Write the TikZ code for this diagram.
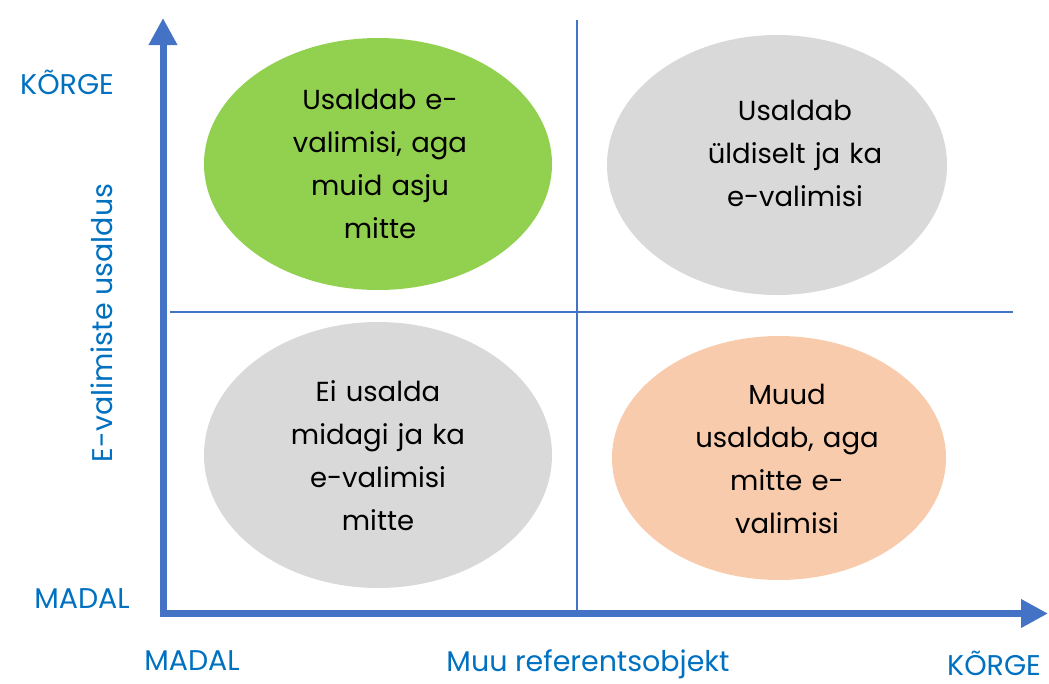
\documentclass[tikz,border=0pt]{standalone}
\usepackage{fontspec}
\setmainfont{Poppins}
\usetikzlibrary{arrows.meta}
\definecolor{axisblue}{HTML}{4472C4}
\definecolor{labelblue}{HTML}{0070C0}
\definecolor{cgreen}{HTML}{92D050}
\definecolor{cgrey}{HTML}{D9D9D9}
\definecolor{corange}{HTML}{F8CBAD}
\tikzset{
  axis/.style={draw=axisblue, line width=7pt, -{Triangle[length=27pt,width=27pt]}},
  divider/.style={draw=axisblue, line width=1.2pt},
  quad/.style={text width=220pt, align=center, font=\fontsize{27.5}{43}\selectfont, text=black},
  lab/.style={text=labelblue, font=\fontsize{28.5}{32}\selectfont},
}
\begin{document}
\begin{tikzpicture}[x=1pt,y=-1pt]
\useasboundingbox (0,0) rectangle (1049,683);
% ellipses
\fill[cgreen] (378,164) ellipse [x radius=174, y radius=126];
\fill[cgrey] (777,165) ellipse [x radius=170, y radius=130];
\fill[cgrey] (378,455) ellipse [x radius=174, y radius=133];
\fill[corange] (779,458) ellipse [x radius=167, y radius=122];
% dividers
\coordinate (vt) at (577,20);
\coordinate (vb) at (577,612);
\coordinate (hl) at (170,312);
\coordinate (hr) at (1013,312);
\draw[divider] (vt) -- (vb);
\draw[divider] (hl) -- (hr);
% axes
\coordinate (ytip) at (163,18);
\coordinate (xtip) at (1048,613.5);
\draw[axis] (163,617) -- (ytip);
\draw[axis] (159.5,613.5) -- (xtip);
% texts
\node[quad] (q1) at (380,164) {Usaldab e-\\valimisi, aga\\muid asju\\mitte};
\node[quad] (q2) at (795,153) {Usaldab\\üldiselt ja ka\\e-valimisi};
\node[quad] (q3) at (378,456) {Ei usalda\\midagi ja ka\\e-valimisi\\mitte};
\node[quad] (q4) at (787,459) {Muud\\usaldab, aga\\mitte e-\\valimisi};
\node[lab] (kv) at (67,82) {KÕRGE};
\node[lab] (mv) at (82,599) {MADAL};
\node[lab] (mh) at (192,661) {MADAL};
\node[lab] (xl) at (588,664) {Muu referentsobjekt};
\node[lab] (kh) at (994,663) {KÕRGE};
\node[lab, rotate=90] (yl) at (102,323) {E-valimiste usaldus};
\end{tikzpicture}
\end{document}
